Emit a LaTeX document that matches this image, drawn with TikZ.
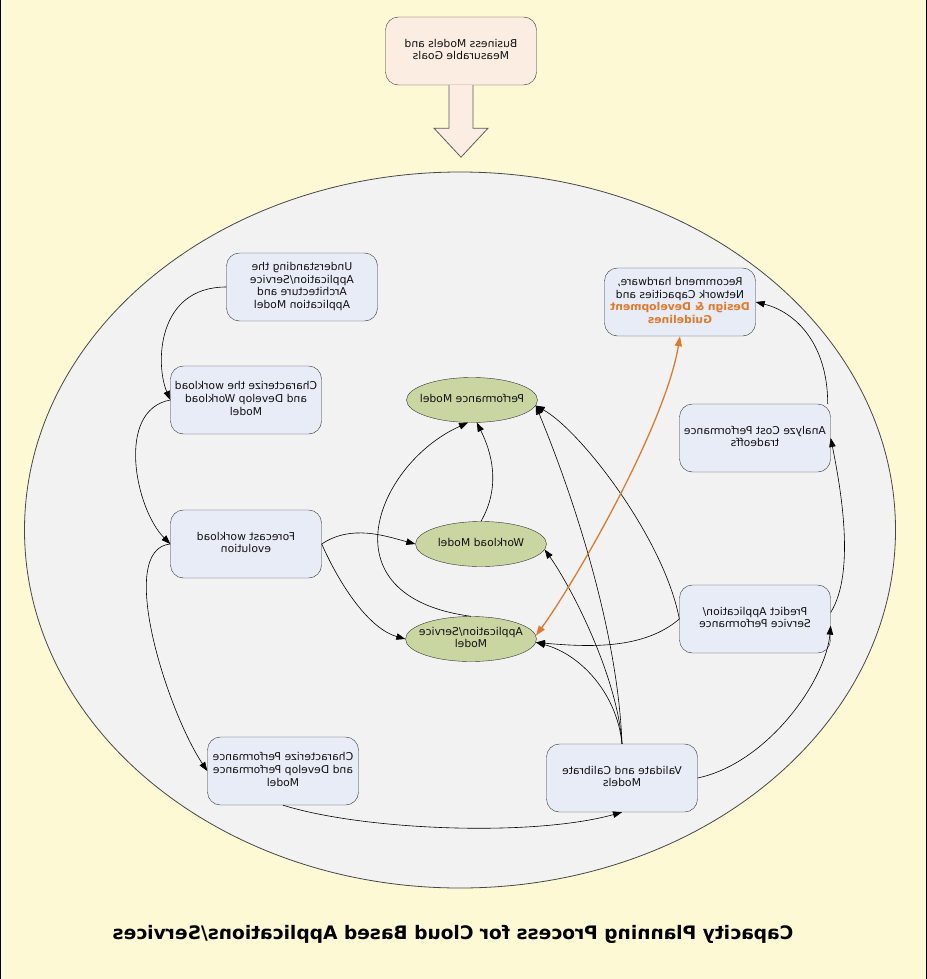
\documentclass[tikz,border=0pt]{standalone}
\usepackage{fontspec}
\setmainfont{DejaVu Sans}
\usepackage{graphicx}
\usetikzlibrary{shapes.geometric, arrows.meta}

\definecolor{bgyellow}{HTML}{FDF9D4}
\definecolor{procgray}{HTML}{F2F2F2}
\definecolor{boxblue}{HTML}{E7ECF7}
\definecolor{goalpeach}{HTML}{FCEDE3}
\definecolor{modelgreen}{HTML}{C9D6A2}
\definecolor{boxline}{HTML}{333333}
\definecolor{txtgray}{HTML}{111111}
\definecolor{linkorange}{HTML}{E07A2A}

% mirrored multi-line text
\newcommand{\mirtxt}[1]{\reflectbox{\begin{tabular}{@{}c@{}}#1\end{tabular}}}

\begin{document}
\begin{tikzpicture}[
    x=1pt, y=-1pt,
    box/.style={rectangle, draw=boxline, rounded corners=13pt, minimum width=151pt, minimum height=68pt, inner sep=0pt, fill=boxblue, text=txtgray, font=\fontsize{10.8}{12.8}\selectfont},
    goal/.style={box, fill=goalpeach},
    model/.style={ellipse, draw=boxline, fill=modelgreen, minimum width=131pt, minimum height=45pt, inner xsep=-10pt, inner ysep=0pt, text=txtgray, font=\fontsize{10.8}{12.8}\selectfont},
    arr/.style={-{Triangle[length=9pt, width=6.5pt]}, line width=0.6pt},
    orarr/.style={{Triangle[length=10pt, width=7pt]}-{Triangle[length=10pt, width=7pt]}, line width=1.3pt, draw=linkorange},
]
    \useasboundingbox (0,0) rectangle (926,979);
    \draw[fill=bgyellow, line width=1pt] (0,0) rectangle (926,979);

    % Process ellipse
    \node[ellipse, draw=boxline!90, fill=procgray, minimum width=871pt, minimum height=716pt, line width=0.8pt] (process) at (460,530) {};

    % Goals and big arrow
    \node[goal] (biz) at (461,51) {\mirtxt{Business Models and\\Measurable Goals}};
    \draw[fill=goalpeach, draw=boxline!80, line width=0.8pt] ([xshift=-12pt]biz.south) -- ++(0,43) -- ++(-15,0) -- ++(27,29) -- ++(27,-29) -- ++(-15,0) -- ++(0,-43);

    % Left column
    \node[box] (understand) at (302,287) {\mirtxt{Understanding the\\Application/Service\\Architecture and\\Application Model}};
    \node[box] (charwl)     at (246,400) {\mirtxt{Characterize the workload\\and Develop Workload\\Model}};
    \node[box] (forecast)   at (246,544) {\mirtxt{Forecast workload\\evolution}};
    \node[box] (charperf)   at (283,771) {\mirtxt{Characterize Performance\\and Develop Performance\\Model}};

    % Right column
    \node[box] (validate)  at (622,778) {\mirtxt{Validate and Calibrate\\Models}};
    \node[box] (predict)   at (755,619) {\mirtxt{Predict Application/\\Service Performance}};
    \node[box] (analyze)   at (755,438) {\mirtxt{Analyze Cost Performance\\tradeoffs}};
    \node[box] (recommend) at (680,302) {\mirtxt{Recommend hardware,\\Network Capacities and\\\textcolor{linkorange}{\bfseries Design \& Development}\\\textcolor{linkorange}{\bfseries Guidelines}}};

    % Models
    \node[model] (perfmodel) at (472,400) {\mirtxt{Performance Model}};
    \node[model] (wlmodel)   at (481,544) {\mirtxt{Workload Model}};
    \node[model] (appmodel)  at (471,639) {\mirtxt{Application/Service\\Model}};

    % Title
    \node[font=\fontsize{18.6}{22}\selectfont\bfseries] (title) at (453,934) {\reflectbox{Capacity Planning Process for Cloud Based Applications/Services}};

    % Left column flow
    \draw[arr] (understand.west) .. controls +(-70,0) and +(-15,-35) .. (charwl.west);
    \draw[arr] (charwl.west) .. controls +(-55,10) and +(-35,-35) .. (forecast.west);
    \draw[arr] (forecast.west) .. controls +(-55,5) and +(-40,-60) .. (charperf.west);
    \draw[arr] (charperf.south) .. controls +(80,25) and +(-90,25) .. (validate.south);

    % Right column flow
    \draw[arr] (validate.east) .. controls +(70,-15) and +(-5,55) .. (predict.-5);
    \draw[arr] (predict.5) .. controls +(25,-40) and +(10,50) .. (analyze.east);
    \draw[arr] ([xshift=-3pt]analyze.north east) .. controls +(0,-60) and +(40,10) .. (recommend.east);

    % Model links
    \draw[arr] (forecast.east) .. controls +(30,-20) and +(-30,-8) .. (wlmodel.west);
    \draw[arr] (forecast.east) .. controls +(20,45) and +(-35,-10) .. (appmodel.west);
    \draw[arr] (appmodel.north) .. controls +(-150,-20) and +(-90,40) .. (perfmodel.-100);
    \draw[arr] (wlmodel.north) .. controls +(20,-35) and +(15,30) .. (perfmodel.-78);
    \draw[arr] (validate.north) .. controls +(-5,-130) and +(25,60) .. (perfmodel.-5);
    \draw[arr] (predict.west) .. controls +(-15,-80) and +(45,25) .. (perfmodel.-5);
    \draw[arr] (validate.north) .. controls +(-5,-70) and +(25,35) .. (wlmodel.-5);
    \draw[arr] (validate.north) .. controls +(-5,-50) and +(45,12) .. (appmodel.-3);
    \draw[arr] (predict.west) .. controls +(-35,30) and +(55,5) .. (appmodel.-3);

    % Guidelines link
    \draw[orarr] (recommend.south) .. controls +(-15,90) and +(40,-55) .. (appmodel.3);
\end{tikzpicture}
\end{document}
